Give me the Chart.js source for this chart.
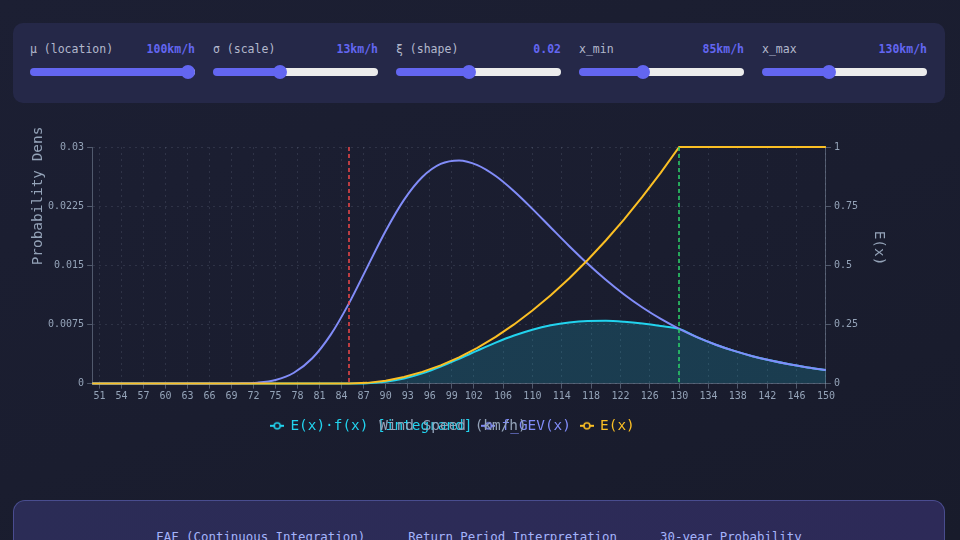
<!DOCTYPE html>
<html><head><meta charset="utf-8">
<script src="https://cdn.jsdelivr.net/npm/chart.js@4.4.1/dist/chart.umd.min.js"></script>
<style>
html,body{margin:0;width:960px;height:540px;overflow:hidden;}
body{position:relative;background:linear-gradient(160deg,#1c1f33 0%,#1a1d2f 55%,#181b2b 100%);font-family:"DejaVu Sans Mono",monospace;}
.controls{position:absolute;left:13px;top:23px;width:932px;height:80px;border-radius:10px;background:#252848;box-sizing:border-box;padding:0 17px;display:flex;gap:18px;}
.ctl{width:165px;position:relative;flex:none;}
.lbl{position:absolute;top:19px;left:0;right:0;display:flex;justify-content:space-between;font-size:11.5px;line-height:14px;color:#b3b8cc;}
.lbl b{color:#6366f1;font-weight:bold;}
input[type=range]{position:absolute;left:0;top:45px;width:165px;margin:0;padding:0;height:8px;-webkit-appearance:none;appearance:none;border-radius:4px;outline:none;border:none;}
input[type=range]::-webkit-slider-thumb{-webkit-appearance:none;appearance:none;width:14px;height:14px;border-radius:50%;background:#6366f1;border:none;}
.chartbox{position:absolute;left:20px;top:126px;width:870px;height:338px;}
.summary{position:absolute;left:13px;top:500px;width:932px;height:120px;border-radius:12px;background:linear-gradient(90deg,#2b2c56,#2d2a58);border:1px solid rgba(129,140,248,0.35);box-sizing:border-box;}
.summary .row{position:absolute;top:29px;left:0;right:0;display:flex;justify-content:center;gap:43px;font-size:12.4px;line-height:14px;color:#a5b4fc;}
</style>
</head><body>
<div class="controls" id="controls"></div>
<div class="chartbox"><canvas id="c"></canvas></div>
<div class="summary"><div class="row"><span>EAF (Continuous Integration)</span><span>Return Period Interpretation</span><span>30-year Probability</span></div></div>
<script>
// ---- parameters ----
const MU = 100, SIGMA = 13, XI = 0.02, X_MIN = 85, X_MAX = 130;

// ---- data ----
const X_VALUES = [50,52.5,55,57.5,60,62.5,65,67.5,70,72.5,75,77.5,80,82.5,85,87.5,90,92.5,95,97.5,100,102.5,105,107.5,110,112.5,115,117.5,120,122.5,125,127.5,130,132.5,135,137.5,140,142.5,145,147.5,150];
const F_GEV = [0,0,0,0,0,0,0.0000002,0.0000024,0.0000209,0.0001181,0.000466,0.001375,0.003207,0.006175,0.010174,0.014773,0.019345,0.023291,0.02619,0.02785,0.028298,0.027706,0.026318,0.02439,0.022155,0.019797,0.017455,0.015225,0.013165,0.0113,0.009646,0.008194,0.006937,0.005856,0.00493,0.004144,0.003478,0.002917,0.002444,0.002047,0.001713];
const E_X = [0,0,0,0,0,0,0,0,0,0,0,0,0,0,0,0.003086,0.012346,0.027778,0.049383,0.07716,0.111111,0.151235,0.197531,0.25,0.308642,0.373457,0.444444,0.521605,0.604938,0.694444,0.790123,0.891975,1,1,1,1,1,1,1,1,1];
const INTEGRAND = [0,0,0,0,0,0,0,0,0,0,0,0,0,0,0,0.0000456,0.000239,0.000647,0.001293,0.002149,0.003144,0.00419,0.005199,0.006098,0.006838,0.007393,0.007758,0.007941,0.007964,0.007847,0.007622,0.007309,0.006937,0.005856,0.00493,0.004144,0.003478,0.002917,0.002444,0.002047,0.001713];
const X_TICKS = [51,54,57,60,63,66,69,72,75,78,81,84,87,90,93,96,99,102,106,110,114,118,122,126,130,134,138,142,146,150];
const Y_TICKS = [0,0.0075,0.015,0.0225,0.03];
const Y1_TICKS = [0,0.25,0.5,0.75,1];
const SERIES_LABELS = ['E(x)·f(x) [integrand]','f_GEV(x)','E(x)'];
const SERIES_COLORS = ['#22d3ee','#818cf8','#fbbf24'];

// ---- controls ----
const SLIDER_LABELS = ['μ (location)','σ (scale)','ξ (shape)','x_min','x_max'];
const SLIDER_VALUES = [MU, SIGMA, XI, X_MIN, X_MAX];
const SLIDER_MINS = [50, 5, -0.2, 40, 90];
const SLIDER_MAXS = [100, 25, 0.3, 160, 190];
const SLIDER_TEXT = [MU+'km/h', SIGMA+'km/h', XI.toFixed(2), X_MIN+'km/h', X_MAX+'km/h'];
const controls = document.getElementById('controls');
SLIDER_LABELS.forEach((lab, i) => {
  const d = document.createElement('div'); d.className = 'ctl';
  d.innerHTML = '<div class="lbl"><span>' + lab + '</span><b>' + SLIDER_TEXT[i] + '</b></div>';
  const inp = document.createElement('input'); inp.type = 'range';
  inp.min = SLIDER_MINS[i]; inp.max = SLIDER_MAXS[i]; inp.step = 'any'; inp.value = SLIDER_VALUES[i];
  const p = (SLIDER_VALUES[i] - SLIDER_MINS[i]) / (SLIDER_MAXS[i] - SLIDER_MINS[i]);
  const pct = (7 + p * (165 - 14)) / 165 * 100;
  inp.style.background = 'linear-gradient(to right,#6366f1 0%,#6366f1 ' + pct + '%,#ececec ' + pct + '%,#ececec 100%)';
  d.appendChild(inp); controls.appendChild(d);
});

// ---- legend markers ----
function marker(color) {
  const c = document.createElement('canvas'); c.width = 14; c.height = 10;
  const g = c.getContext('2d');
  g.strokeStyle = color; g.lineWidth = 2;
  g.beginPath(); g.moveTo(0, 5); g.lineTo(14, 5); g.stroke();
  g.beginPath(); g.arc(7, 5, 3, 0, Math.PI * 2); g.fillStyle = '#1b1e30'; g.fill(); g.lineWidth = 1.6; g.stroke();
  return c;
}
const MARKERS = SERIES_COLORS.map(marker);

const FONT = '"DejaVu Sans Mono", monospace';
const TICK_COLOR = '#94a3b8';
const GRID_COLOR = 'rgba(148,163,184,0.17)';
const AXIS_COLOR = 'rgba(148,163,184,0.45)';
const MIN_LINE_COLOR = '#f04848';
const MAX_LINE_COLOR = '#2bd46a';

const pts = arr => X_VALUES.map((x, i) => ({x: x, y: arr[i]}));

const overlay = {
  id: 'overlay',
  afterDatasetsDraw(chart) {
    const {ctx, chartArea: a, scales: {x}} = chart;
    [[X_MIN, MIN_LINE_COLOR], [X_MAX, MAX_LINE_COLOR]].forEach(([v, col]) => {
      const px = Math.round(x.getPixelForValue(v));
      ctx.save(); ctx.strokeStyle = col; ctx.lineWidth = 1.5; ctx.setLineDash([4, 3]);
      ctx.beginPath(); ctx.moveTo(px, a.top); ctx.lineTo(px, a.bottom); ctx.stroke(); ctx.restore();
    });
  },
  afterDraw(chart) {
    const {ctx, chartArea: a, legend} = chart;
    const cy = (a.top + a.bottom) / 2;
    ctx.save();
    ctx.fillStyle = TICK_COLOR; ctx.font = '14.4px ' + FONT; ctx.textBaseline = 'middle';
    ctx.save(); ctx.translate(a.left - 53.5, cy); ctx.rotate(-Math.PI / 2); ctx.textAlign = 'left';
    ctx.fillText('Probability Density', 0, 0); ctx.restore();
    ctx.save(); ctx.translate(a.right + 53, cy); ctx.rotate(Math.PI / 2); ctx.textAlign = 'right';
    ctx.fillText('E(x)', 0, 0); ctx.restore();
    const hb = legend.legendHitBoxes[0];
    ctx.textAlign = 'center';
    ctx.fillText('Wind Speed (km/h)', (legend.left + legend.right) / 2, hb.top + hb.height / 2);
    ctx.restore();
  }
};

new Chart(document.getElementById('c'), {
  type: 'line',
  data: {
    datasets: [
      {label: SERIES_LABELS[0], data: pts(INTEGRAND), yAxisID: 'y', borderColor: SERIES_COLORS[0], backgroundColor: 'rgba(34,211,238,0.18)', fill: 'origin', borderWidth: 2, pointRadius: 0, cubicInterpolationMode: 'monotone', clip: 3, order: 3},
      {label: SERIES_LABELS[1], data: pts(F_GEV), yAxisID: 'y', borderColor: SERIES_COLORS[1], backgroundColor: 'transparent', fill: false, borderWidth: 2, pointRadius: 0, cubicInterpolationMode: 'monotone', clip: 3, order: 2},
      {label: SERIES_LABELS[2], data: pts(E_X), yAxisID: 'y1', borderColor: SERIES_COLORS[2], backgroundColor: 'transparent', fill: false, borderWidth: 2, pointRadius: 0, tension: 0, clip: 3, order: 1}
    ]
  },
  options: {
    responsive: true, maintainAspectRatio: false, animation: false,
    layout: {padding: {left: 25, right: 29, top: 21, bottom: 21}},
    plugins: {
      tooltip: {enabled: false},
      legend: {
        position: 'bottom',
        labels: {
          usePointStyle: true, boxWidth: 12, padding: 10,
          font: {family: FONT, size: 14.4},
          generateLabels: chart => SERIES_LABELS.map((t, i) => ({
            text: t, fillStyle: SERIES_COLORS[i], strokeStyle: SERIES_COLORS[i], fontColor: SERIES_COLORS[i],
            lineWidth: 0, pointStyle: MARKERS[i], hidden: false, datasetIndex: i
          }))
        }
      }
    },
    scales: {
      x: {
        type: 'linear', min: 50, max: 150,
        afterBuildTicks: s => { s.ticks = X_TICKS.map(v => ({value: v})); },
        afterFit: s => { s.height += 4; },
        ticks: {autoSkip: false, maxRotation: 0, padding: 2, color: TICK_COLOR, font: {family: FONT, size: 10}, callback: v => String(v)},
        grid: {color: GRID_COLOR, tickColor: AXIS_COLOR, tickLength: 5, borderDash: [2, 4]},
        border: {color: AXIS_COLOR, dash: [2, 4]}
      },
      y: {
        type: 'linear', position: 'left', min: 0, max: 0.03,
        afterBuildTicks: s => { s.ticks = Y_TICKS.map(v => ({value: v})); },
        ticks: {padding: 3, color: TICK_COLOR, font: {family: FONT, size: 10}, callback: v => String(v)},
        grid: {color: GRID_COLOR, tickColor: AXIS_COLOR, tickLength: 5, borderDash: [2, 4]},
        border: {color: AXIS_COLOR, dash: [2, 4]}
      },
      y1: {
        type: 'linear', position: 'right', min: 0, max: 1,
        afterBuildTicks: s => { s.ticks = Y1_TICKS.map(v => ({value: v})); },
        ticks: {padding: 3, color: TICK_COLOR, font: {family: FONT, size: 10}, callback: v => String(v)},
        grid: {drawOnChartArea: false, color: GRID_COLOR, tickColor: AXIS_COLOR, tickLength: 5},
        border: {color: AXIS_COLOR}
      }
    }
  },
  plugins: [overlay]
});
</script>
</body></html>
